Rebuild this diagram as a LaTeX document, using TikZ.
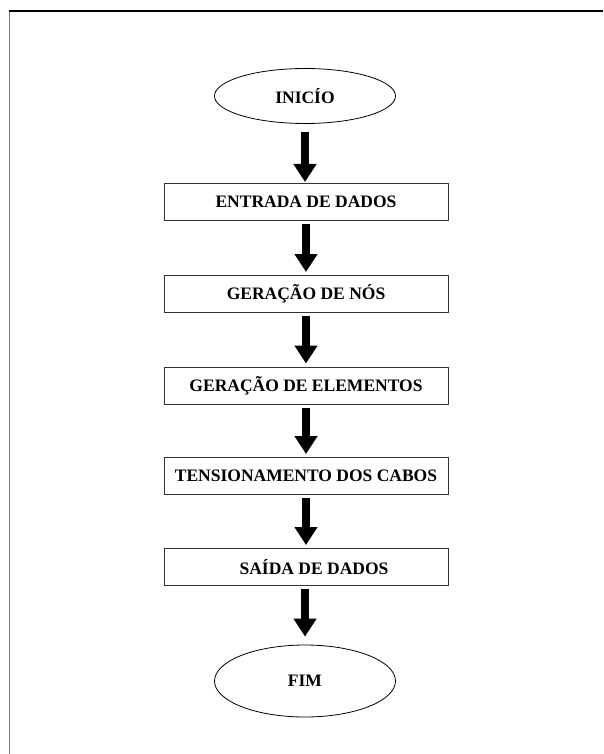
\documentclass[tikz,border=0pt]{standalone}
\usepackage{fontspec}
\setmainfont{Liberation Serif}
\usepackage{tikz}
\usetikzlibrary{shapes.geometric, arrows.meta}
\tikzset{
  %---------------------------------------%
  %          Fluxograma: caixas           %
  %---------------------------------------%
  % Caixa de inicio / fim
  box_term/.style={
    ellipse,
    align=center,
    draw=black,
    line width=0.8pt,
    inner sep=0pt,
    minimum width=181pt,
    minimum height=55pt,
    font=\fontsize{17.5}{20}\selectfont\bfseries
  },
  % Caixa de processo
  box_proc/.style={
    rectangle,
    align=center,
    draw=black!80,
    line width=1pt,
    inner sep=0pt,
    minimum width=284pt,
    minimum height=37pt,
    font=\fontsize{17.5}{20}\selectfont\bfseries
  },
  %----------------%
  %     Arrows     %
  %----------------%
  arrow/.style={draw,line width=8pt,-{Triangle[width=22pt,length=18pt]},
    shorten <=3pt, shorten >=3pt},
}

\begin{document}
\begin{tikzpicture}[x=1pt, y=-1pt]
    \useasboundingbox (0,0) rectangle (603,754);
    % Moldura
    \draw [line width=1.5pt, black!50] (9.5,11) -- (9.5,754);
    \draw [line width=1.3pt] (9,11) -- (603,11);

    %------------------%
    %      Inicio      %
    %------------------%
    \node (inicio) [box_term] at (305, 96) {INICÍO};

    %-----------------------%
    %      Processos        %
    %-----------------------%
    % Entrada de dados
    \node (entrada) [box_proc] at (306, 201.5) {ENTRADA DE DADOS};
    % Geracao de nos
    \node (nos) [box_proc] at (306, 294) {GERAÇÃO DE NÓS};
    % Geracao de elementos
    \node (elementos) [box_proc] at (306, 385.5) {GERAÇÃO DE ELEMENTOS};
    % Tensionamento dos cabos
    \node (cabos) [box_proc] at (306, 476) {TENSIONAMENTO DOS CABOS};
    % Saida de dados
    \node (saida) [box_proc] at (306, 567) {\hspace*{16pt}SAÍDA DE DADOS};

    %------------------%
    %       Fim        %
    %------------------%
    \node (fim) [box_term, minimum height=72pt] at (305, 681) {FIM};

    %----------%
    %  Arrows  %
    %----------%
    % Inicio --> Entrada de dados
    \draw [arrow, shorten <=8pt, shorten >=0.5pt] (inicio.south) -- (inicio.south |- entrada.north);
    % Entrada de dados --> Geracao de nos
    \draw [arrow] (entrada.south) -- (nos.north);
    % Geracao de nos --> Geracao de elementos
    \draw [arrow] (nos.south) -- (elementos.north);
    % Geracao de elementos --> Tensionamento dos cabos
    \draw [arrow] (elementos.south) -- (cabos.north);
    % Tensionamento dos cabos --> Saida de dados
    \draw [arrow] (cabos.south) -- (saida.north);
    % Saida de dados --> Fim
    \draw [arrow, shorten >=8pt] (saida.south -| fim.north) -- (fim.north);
\end{tikzpicture}
\end{document}
